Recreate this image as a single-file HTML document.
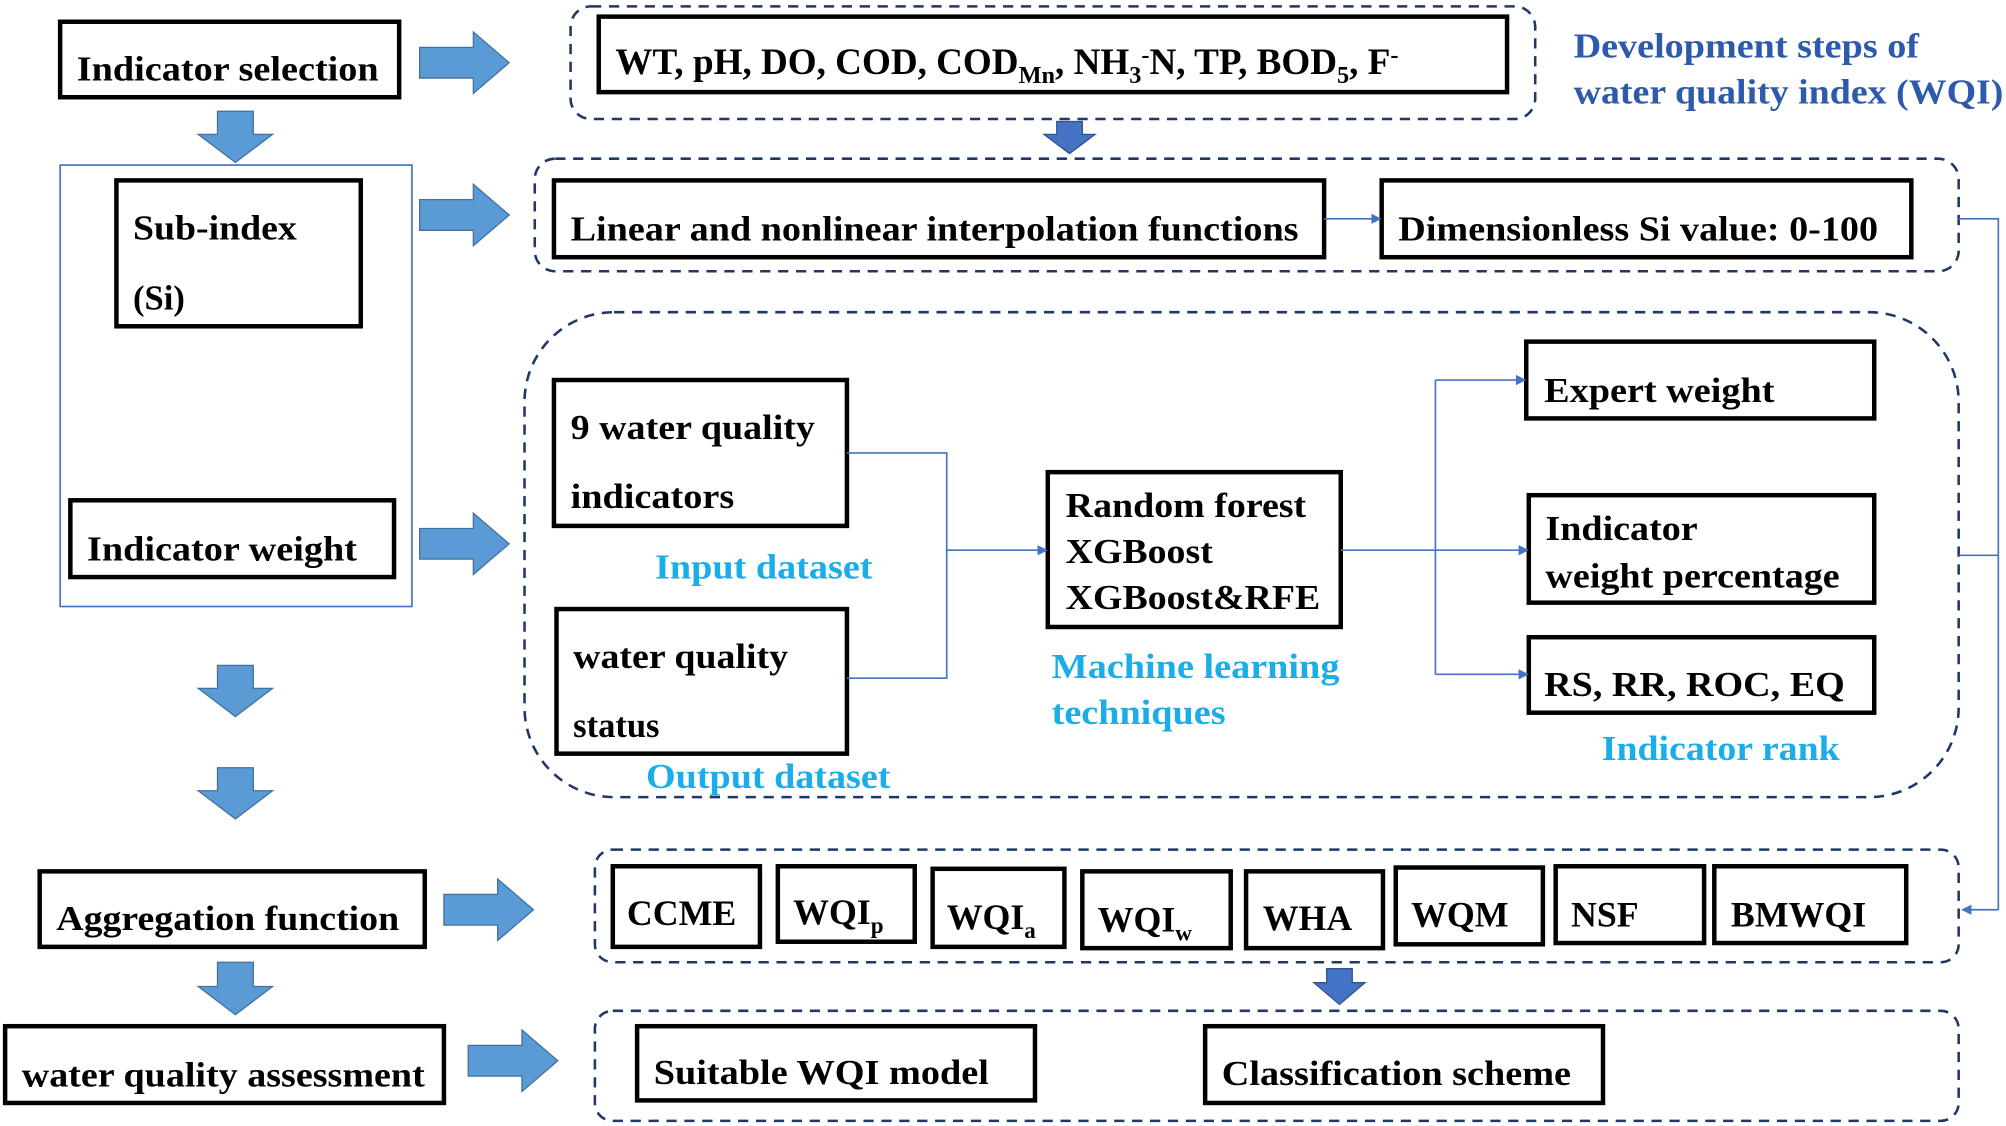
<!DOCTYPE html>
<html><head><meta charset="utf-8"><style>html,body{margin:0;padding:0;background:#fff}svg{display:block}text{font-family:"Liberation Serif","Times New Roman",serif;font-weight:bold}</style></head>
<body>
<svg width="2006" height="1126" viewBox="0 0 1568 880" preserveAspectRatio="none" xmlns="http://www.w3.org/2000/svg">
<defs>
<marker id="ah" markerWidth="8" markerHeight="8" refX="7" refY="4" orient="auto" markerUnits="userSpaceOnUse"><path d="M0,0 L8,4 L0,8 z" fill="#4472C4"/></marker>
</defs>
<g fill="none" stroke="#1F3864" stroke-width="2" stroke-dasharray="8,6">
<rect x="446" y="5" width="754" height="88" rx="16"/>
<rect x="418" y="124" width="1113" height="88" rx="16"/>
<rect x="410" y="244" width="1121" height="379" rx="70"/>
<rect x="465" y="664" width="1066" height="88" rx="14"/>
<rect x="465" y="790" width="1066" height="86" rx="14"/>
</g>
<rect x="47" y="129" width="275" height="345" fill="none" stroke="#4472C4" stroke-width="1.3"/>
<g fill="#fff" stroke="#000" stroke-width="3.5">
<rect x="47" y="17" width="265" height="59"/>
<rect x="468" y="13" width="710" height="59"/>
<rect x="91" y="141" width="191" height="114"/>
<rect x="55" y="391" width="253" height="60"/>
<rect x="433" y="141" width="602" height="60"/>
<rect x="1080" y="141" width="414" height="60"/>
<rect x="433" y="297" width="229" height="114"/>
<rect x="435" y="476" width="227" height="113"/>
<rect x="819" y="369" width="229" height="121"/>
<rect x="1193" y="267" width="272" height="60"/>
<rect x="1195" y="387" width="270" height="84"/>
<rect x="1195" y="498" width="270" height="59"/>
<rect x="31" y="681" width="301" height="59"/>
<rect x="479" y="677" width="115" height="63"/>
<rect x="608" y="677" width="107" height="59"/>
<rect x="729" y="679" width="103" height="61"/>
<rect x="846" y="681" width="116" height="60"/>
<rect x="974" y="681" width="107" height="60"/>
<rect x="1091" y="678" width="115" height="60"/>
<rect x="1216" y="677" width="116" height="60"/>
<rect x="1340" y="677" width="150" height="60"/>
<rect x="4" y="802" width="343" height="60"/>
<rect x="498" y="802" width="311" height="58"/>
<rect x="942" y="802" width="311" height="60"/>
</g>
<g fill="#5B9BD5" stroke="#41719C" stroke-width="1">
<path d="M328,37 h42 v-12 l28,24 l-28,24 v-12 h-42 z"/>
<path d="M328,156 h42 v-12 l28,24 l-28,24 v-12 h-42 z"/>
<path d="M328,413 h42 v-12 l28,24 l-28,24 v-12 h-42 z"/>
<path d="M347,699 h42 v-12 l28,24 l-28,24 v-12 h-42 z"/>
<path d="M366,817 h42 v-12 l28,24 l-28,24 v-12 h-42 z"/>
<path d="M170,87 h28 v18 h15 l-29,22 l-29,-22 h15 z"/>
<path d="M170,520 h28 v18 h15 l-29,22 l-29,-22 h15 z"/>
<path d="M170,600 h28 v18 h15 l-29,22 l-29,-22 h15 z"/>
<path d="M170,752 h28 v19 h15 l-29,22 l-29,-22 h15 z"/>
</g>
<g fill="#4472C4" stroke="#2F528F" stroke-width="1">
<path d="M826,95 h20 v10 h10 l-20,15 l-20,-15 h10 z"/>
<path d="M1037,757 h20 v11 h10 l-20,17 l-20,-17 h10 z"/>
</g>
<g fill="none" stroke="#4472C4" stroke-width="1.3">
<line x1="1035" y1="171" x2="1079" y2="171" marker-end="url(#ah)"/>
<polyline points="662,354 740,354 740,530 662,530"/>
<line x1="740" y1="430" x2="818" y2="430" marker-end="url(#ah)"/>
<line x1="1048" y1="430" x2="1122" y2="430"/>
<line x1="1122" y1="297" x2="1122" y2="527"/>
<line x1="1122" y1="297" x2="1192" y2="297" marker-end="url(#ah)"/>
<line x1="1122" y1="430" x2="1194" y2="430" marker-end="url(#ah)"/>
<line x1="1122" y1="527" x2="1194" y2="527" marker-end="url(#ah)"/>
<polyline points="1531,171 1562,171 1562,711"/>
<line x1="1562" y1="711" x2="1534" y2="711" marker-end="url(#ah)"/>
<line x1="1531" y1="434" x2="1562" y2="434"/>
</g>
<g font-size="27" fill="#000">
<text x="60" y="63" textLength="236" lengthAdjust="spacingAndGlyphs">Indicator selection</text>
<text x="481" y="58" font-size="29">WT, pH, DO, COD, COD<tspan font-size="19" dy="7">Mn</tspan><tspan dy="-7">, NH</tspan><tspan font-size="19" dy="7">3</tspan><tspan font-size="19" dy="-16">-</tspan><tspan dy="9">N, TP, BOD</tspan><tspan font-size="19" dy="7">5</tspan><tspan dy="-7">, F</tspan><tspan font-size="19" dy="-9">-</tspan></text>
<text x="104" y="187" textLength="128" lengthAdjust="spacingAndGlyphs">Sub-index</text>
<text x="104" y="242">(Si)</text>
<text x="68" y="438" textLength="211" lengthAdjust="spacingAndGlyphs">Indicator weight</text>
<text x="446" y="188" textLength="569" lengthAdjust="spacingAndGlyphs">Linear and nonlinear interpolation functions</text>
<text x="1093" y="188" textLength="375" lengthAdjust="spacingAndGlyphs">Dimensionless Si value: 0-100</text>
<text x="446" y="343" textLength="191" lengthAdjust="spacingAndGlyphs">9 water quality</text>
<text x="446" y="397" textLength="128" lengthAdjust="spacingAndGlyphs">indicators</text>
<text x="448" y="522" textLength="168" lengthAdjust="spacingAndGlyphs">water quality</text>
<text x="448" y="576">status</text>
<text x="833" y="404" textLength="188" lengthAdjust="spacingAndGlyphs">Random forest</text>
<text x="833" y="440" textLength="115" lengthAdjust="spacingAndGlyphs">XGBoost</text>
<text x="833" y="476" textLength="199" lengthAdjust="spacingAndGlyphs">XGBoost&amp;RFE</text>
<text x="1207" y="314" textLength="180" lengthAdjust="spacingAndGlyphs">Expert weight</text>
<text x="1208" y="422" textLength="119" lengthAdjust="spacingAndGlyphs">Indicator</text>
<text x="1208" y="459" textLength="230" lengthAdjust="spacingAndGlyphs">weight percentage</text>
<text x="1207" y="544" textLength="235" lengthAdjust="spacingAndGlyphs">RS, RR, ROC, EQ</text>
<text x="44" y="727" textLength="268" lengthAdjust="spacingAndGlyphs">Aggregation function</text>
<text x="490" y="723" font-size="28">CCME</text>
<text x="620" y="722" font-size="28">WQI<tspan font-size="18" dy="7">p</tspan></text>
<text x="740" y="726" font-size="28">WQI<tspan font-size="18" dy="7">a</tspan></text>
<text x="858" y="728" font-size="28">WQI<tspan font-size="18" dy="7">w</tspan></text>
<text x="987" y="727" font-size="28">WHA</text>
<text x="1103" y="724" font-size="28">WQM</text>
<text x="1228" y="724" font-size="28">NSF</text>
<text x="1353" y="724" font-size="28">BMWQI</text>
<text x="17" y="849" textLength="315" lengthAdjust="spacingAndGlyphs">water quality assessment</text>
<text x="511" y="847" textLength="262" lengthAdjust="spacingAndGlyphs">Suitable WQI model</text>
<text x="955" y="848" textLength="273" lengthAdjust="spacingAndGlyphs">Classification scheme</text>
</g>
<g font-size="27" fill="#2E5AAC">
<text x="1230" y="45" textLength="270" lengthAdjust="spacingAndGlyphs">Development steps of</text>
<text x="1230" y="81" textLength="336" lengthAdjust="spacingAndGlyphs">water quality index (WQI)</text>
</g>
<g font-size="27" fill="#1AADE8">
<text x="512" y="452" textLength="170" lengthAdjust="spacingAndGlyphs">Input dataset</text>
<text x="505" y="616" textLength="191" lengthAdjust="spacingAndGlyphs">Output dataset</text>
<text x="822" y="530" textLength="225" lengthAdjust="spacingAndGlyphs">Machine learning</text>
<text x="822" y="566" textLength="136" lengthAdjust="spacingAndGlyphs">techniques</text>
<text x="1252" y="594" textLength="186" lengthAdjust="spacingAndGlyphs">Indicator rank</text>
</g>
</svg>
</body></html>
